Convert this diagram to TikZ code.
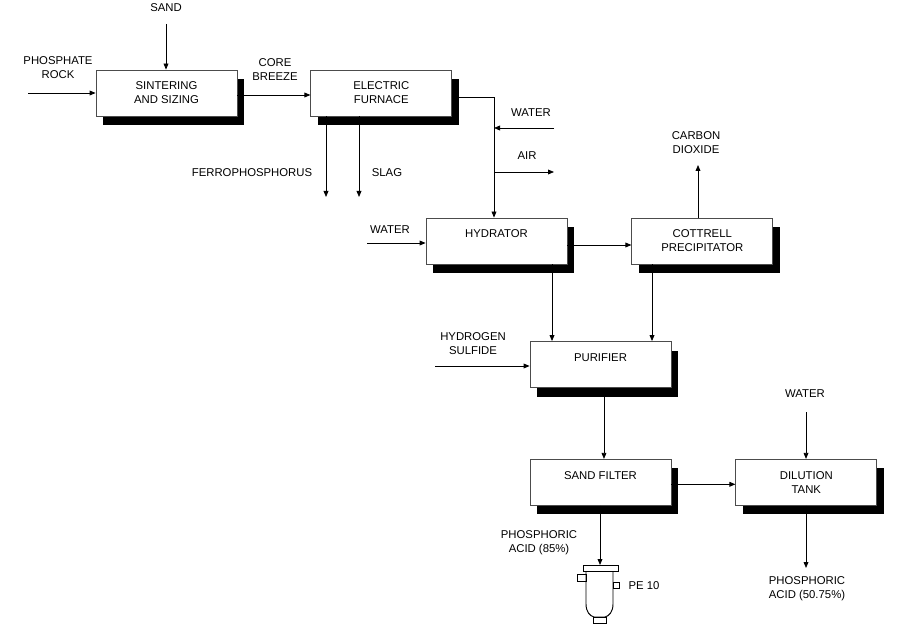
\documentclass[tikz,border=0pt]{standalone}
\usepackage{fontspec}
\setmainfont{Liberation Sans}
\usetikzlibrary{positioning,shadows,arrows.meta}

\begin{document}
\begin{tikzpicture}[x=0.75pt, y=-0.75pt,
	pstyle/.style={rectangle, draw=black!70, fill=white, line width=0.6pt,
	minimum width=105.75pt, minimum height=34.5pt, align=center,
	drop shadow={shadow xshift=5.6pt, shadow yshift=-6.75pt, fill=black, opacity=1}},
	lstyle/.style={align=center},
	fstyle/.style={line width=0.6pt, -{Triangle[length=4.5pt, width=3.6pt]}},
	font=\fontsize{8.5}{10.5}\selectfont
	]
	\useasboundingbox (0,0) rectangle (912,630);

	\node[pstyle] (sint) at (166.5,93) {SINTERING\\AND SIZING};
	\node[pstyle] (furn) [right=54.75pt of sint] {ELECTRIC\\FURNACE};
	\node[pstyle] (hyd) at (496.5,241) {HYDRATOR\\[-3pt]\strut};
	\node[pstyle] (cott) [right=48pt of hyd] {COTTRELL\\PRECIPITATOR};
	\node[pstyle] (pur) at (600.5,364.5) {PURIFIER\\[-3pt]\strut};
	\node[pstyle] (sfil) [below=53.25pt of pur] {SAND FILTER\\[-3pt]\strut};
	\node[pstyle] (dil) [right=48pt of sfil] {DILUTION\\TANK};

	\node[lstyle] (rock) at (58,68) {PHOSPHATE\\ROCK};
	\node[lstyle] (sand) at (166,8) {SAND};
	\node[lstyle] (coke) at (275,70) {CORE\\BREEZE};
	\node[lstyle] (ferro) at (252,173) {FERROPHOSPHORUS};
	\node[lstyle] (slag) at (387,173) {SLAG};
	\node[lstyle] (wat1) at (531,113) {WATER};
	\node[lstyle] (air) at (527,156) {AIR};
	\node[lstyle] (co2) at (696,143) {CARBON\\DIOXIDE};
	\node[lstyle] (wat2) at (390,230) {WATER};
	\node[lstyle] (hs) at (473,344) {HYDROGEN\\SULFIDE};
	\node[lstyle] (wat3) at (805,394) {WATER};
	\node[lstyle] (acid1) at (539,543) {PHOSPHORIC\\ACID (85\%)};
	\node[lstyle] (acid2) at (807,589) {PHOSPHORIC\\ACID (50.75\%)};
	\node[lstyle] (pe) at (644,586) {PE 10};

	% free ends of the flows
	\coordinate (rockin) at (28,93);
	\coordinate (sandin) at (166,24);
	\coordinate (split) at (494,97);
	\coordinate (watin) at (554,128);
	\coordinate (airout) at (554,172);
	\coordinate (ferout) at (326,197);
	\coordinate (slagout) at (359,197);
	\coordinate (co2out) at (698,165);
	\coordinate (wat2in) at (367,243);
	\coordinate (hsin) at (435,366);
	\coordinate (wat3in) at (806,412);
	\coordinate (acidout) at (806,568);
	\coordinate (pein) at (600,565);
	\coordinate (p1) at (552,342);
	\coordinate (p2) at (652,342);

	\draw[fstyle] (rockin) -- (rockin -| sint.west);
	\draw[fstyle] (sandin) -- (sandin |- sint.north);
	\draw[fstyle] ([yshift=-1.5pt]sint.east) -- ([yshift=-1.5pt]furn.west);
	\draw[fstyle] (furn.east |- split) -- (split) -- (split |- hyd.north);
	\draw[fstyle] (watin) -- (watin -| split);
	\draw[fstyle] (split |- airout) -- (airout);
	\draw[fstyle] (ferout |- furn.south) -- (ferout);
	\draw[fstyle] (slagout |- furn.south) -- (slagout);
	\draw[fstyle] (wat2in) -- (wat2in -| hyd.west);
	\draw[fstyle] ([yshift=-3pt]hyd.east) -- ([yshift=-3pt]cott.west);
	\draw[fstyle] (co2out |- cott.north) -- (co2out);
	\draw[fstyle] (p1 |- hyd.south) -- (p1 |- pur.north);
	\draw[fstyle] (p2 |- cott.south) -- (p2 |- pur.north);
	\draw[fstyle] (hsin) -- (hsin -| pur.west);
	\draw[fstyle] ([xshift=2.6pt]pur.south) -- ([xshift=2.6pt]sfil.north);
	\draw[fstyle] ([yshift=-1.5pt]sfil.east) -- ([yshift=-1.5pt]dil.west);
	\draw[fstyle] (wat3in) -- (wat3in |- dil.north);
	\draw[fstyle] (acidout |- dil.south) -- (acidout);
	\draw[fstyle] (pein |- sfil.south) -- (pein);

	% container PE 10
	\draw[line width=0.7pt, fill=white] (586,571) -- (586,604)
	.. controls (586,612) and (590,616) .. (594,617) -- (605,617)
	.. controls (609,616) and (613,612) .. (613,604) -- (613,571);
	\draw[line width=0.7pt, fill=white] (583,565) rectangle (618,571);
	\draw[line width=0.7pt] (577,574) rectangle (586,581);
	\draw[line width=0.7pt] (613,582) rectangle (619,588);
	\draw[line width=1.4pt] (619.5,582) -- (619.5,589);
	\draw[line width=0.7pt] (593,617) rectangle (606,623);
\end{tikzpicture}
\end{document}
